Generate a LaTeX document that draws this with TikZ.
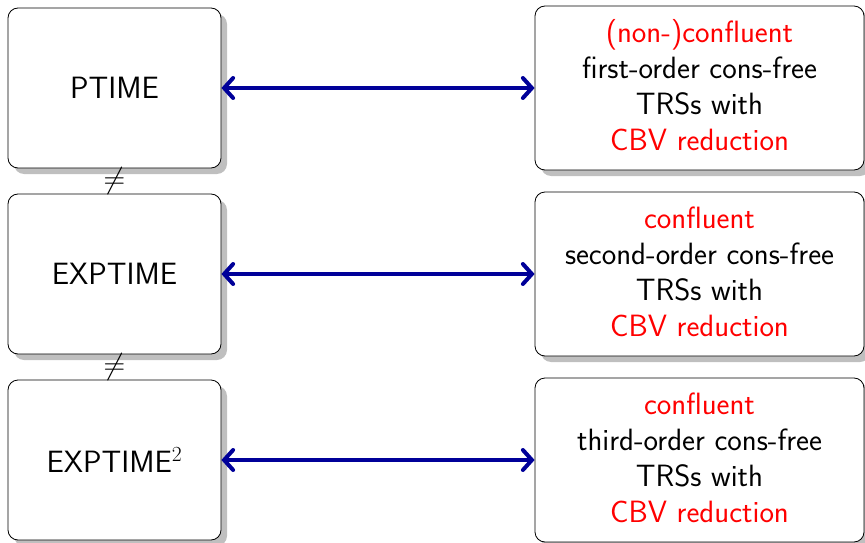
\RequirePackage{fix-cm}
\documentclass[tikz,border=0pt]{standalone}
\usetikzlibrary{arrows.meta,shadows,calc}
\begin{document}
\begin{tikzpicture}[x=1pt,y=-1pt,
  cls/.style={draw=black, line width=0.8pt, rounded corners=10pt, fill=white,
    minimum width=213pt, minimum height=160pt, inner sep=0pt,
    font=\sffamily\fontsize{30.8}{36}\selectfont,
    drop shadow={shadow xshift=6pt, shadow yshift=-6pt, fill=black!25, opacity=1}},
  trs/.style={draw=black, line width=0.8pt, rounded corners=10pt, fill=white,
    minimum width=329pt, minimum height=164pt, inner sep=0pt,
    drop shadow={shadow xshift=6pt, shadow yshift=-6pt, fill=black!25, opacity=1}},
  txt/.style={inner sep=0pt, align=center, font=\sffamily\fontsize{30.8}{36}\selectfont},
  eqv/.style={draw={rgb,255:red,0;green,0;blue,153}, line width=4pt,
    {Straight Barb[length=9pt,width=20pt,line cap=round]}-{Straight Barb[length=9pt,width=20pt,line cap=round]}},
  neq/.style={inner sep=0pt, font=\fontsize{20}{24}\selectfont}
]
\useasboundingbox (0,0) rectangle (865,543);
\node[cls] (p) at (114.5,88) {PTIME};
\node[cls] (e) at (114.5,274) {EXPTIME};
\node[cls] (e2) at (114.5,460) {EXPTIME$^2$};
\node[trs] (t1) at (699.5,88) {};
\node[trs] (t2) at (699.5,274) {};
\node[trs] (t3) at (699.5,460) {};
\node[txt] (l1) at ([yshift=2.5pt]t1.center) {\textcolor{red}{(non-)confluent}\\first-order cons-free\\TRSs with\\\textcolor{red}{CBV reduction}};
\node[txt] (l2) at ([yshift=2.5pt]t2.center) {\textcolor{red}{confluent}\\second-order cons-free\\TRSs with\\\textcolor{red}{CBV reduction}};
\node[txt] (l3) at ([yshift=2.5pt]t3.center) {\textcolor{red}{confluent}\\third-order cons-free\\TRSs with\\\textcolor{red}{CBV reduction}};
\draw[eqv] (p) -- (t1);
\draw[eqv] (e) -- (t2);
\draw[eqv] (e2) -- (t3);
\node[neq] (n1) at ($(p.south)!0.5!(e.north)$) {\scalebox{1.5}{$\neq$}};
\node[neq] (n2) at ($(e.south)!0.5!(e2.north)$) {\scalebox{1.5}{$\neq$}};
\end{tikzpicture}
\end{document}
